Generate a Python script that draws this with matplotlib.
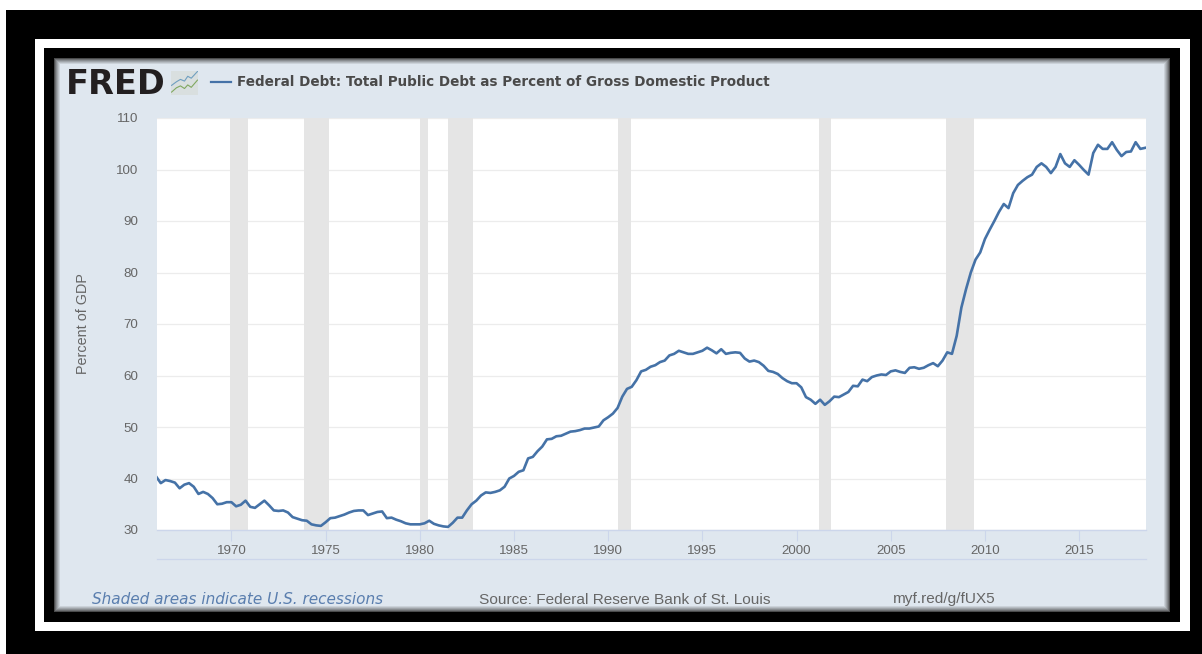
import numpy as np
import matplotlib
matplotlib.use("Agg")
import matplotlib.pyplot as plt
from matplotlib.patches import Rectangle
from matplotlib.lines import Line2D
from matplotlib.transforms import ScaledTranslation

W, H = 1202, 654

first_year = 1966
debt_pct = [
    40.4, 39.1, 39.7, 39.5,  39.2, 38.1, 38.8, 39.1,  38.4, 37.0, 37.4, 37.0,
    36.2, 35.0, 35.1, 35.4,  35.4, 34.6, 34.9, 35.7,  34.5, 34.3, 35.0, 35.7,
    34.8, 33.8, 33.7, 33.8,  33.4, 32.5, 32.2, 31.9,  31.8, 31.1, 30.9, 30.8,
    31.5, 32.3, 32.4, 32.7,  33.0, 33.4, 33.7, 33.8,  33.8, 32.9, 33.2, 33.5,
    33.6, 32.3, 32.4, 32.0,  31.7, 31.3, 31.1, 31.1,  31.1, 31.3, 31.8, 31.2,
    30.9, 30.7, 30.6, 31.4,  32.4, 32.4, 33.8, 35.0,  35.7, 36.7, 37.3, 37.2,
    37.4, 37.7, 38.4, 40.0,  40.5, 41.3, 41.6, 43.9,  44.2, 45.3, 46.2, 47.6,
    47.7, 48.2, 48.3, 48.7,  49.1, 49.2, 49.4, 49.7,  49.7, 49.9, 50.1, 51.3,
    51.9, 52.6, 53.7, 55.9,  57.4, 57.8, 59.1, 60.8,  61.1, 61.7, 62.0, 62.6,
    62.9, 63.9, 64.2, 64.8,  64.5, 64.2, 64.2, 64.5,  64.8, 65.4, 64.9, 64.3,
    65.1, 64.2, 64.4, 64.5,  64.4, 63.3, 62.7, 62.9,  62.6, 61.9, 60.9, 60.7,
    60.3, 59.5, 58.9, 58.5,  58.5, 57.7, 55.8, 55.3,  54.5, 55.3, 54.3, 55.0,
    55.9, 55.8, 56.3, 56.8,  58.0, 57.9, 59.2, 58.9,  59.7, 60.0, 60.2, 60.1,
    60.8, 61.0, 60.7, 60.5,  61.5, 61.6, 61.3, 61.5,  62.0, 62.4, 61.8, 62.9,
    64.5, 64.2, 67.7, 73.2,  76.8, 80.0, 82.5, 83.9,  86.5, 88.3, 90.0, 91.8,
    93.3, 92.5, 95.4, 97.0,  97.8, 98.5, 99.0, 100.5, 101.2, 100.5, 99.3, 100.5,
    103.0, 101.2, 100.5, 101.8, 100.9, 99.9, 99.0, 103.2, 104.8, 104.0, 104.0, 105.3,
    103.8, 102.6, 103.4, 103.5, 105.3, 104.0, 104.2,
]
recession_start = [1969.95, 1973.85, 1980.0, 1981.5, 1990.5, 2001.2, 2007.95]
recession_end = [1970.87, 1975.17, 1980.45, 1982.85, 1991.2, 2001.85, 2009.42]
y_ticks = [30, 40, 50, 60, 70, 80, 90, 100, 110]
x_ticks = [1970, 1975, 1980, 1985, 1990, 1995, 2000, 2005, 2010, 2015]

title = "Federal Debt: Total Public Debt as Percent of Gross Domestic Product"
y_label = "Percent of GDP"
note = "Shaded areas indicate U.S. recessions"
source = "Source: Federal Reserve Bank of St. Louis"
link = "myf.red/g/fUX5"

LINE = "#4572a7"
TXT = "#666666"
SANS = "Liberation Sans"

fig = plt.figure(figsize=(W / 100, H / 100), dpi=100, facecolor="white")


def box(x0, y0, x1, y1, color, z=0):
    fig.add_artist(Rectangle((x0 / W, 1 - y1 / H), (x1 - x0) / W, (y1 - y0) / H,
                             transform=fig.transFigure, facecolor=color,
                             edgecolor="none", zorder=z))


def label(x, y, s, **kw):
    fig.text(x / W, 1 - y / H, s, **kw)


# nested frames
box(6, 10, W, H, "black", 0)
box(35, 39, 1190, 631, "white", 1)
box(44, 48, 1180, 622, "black", 2)
inner = np.array([0xdf, 0xe7, 0xef]) / 255
edge = np.array([0x4a, 0x4b, 0x4c]) / 255
steps = 7
for i in range(steps):
    t = i / (steps - 1)
    box(54 + i, 58 + i, 1170 - i, 612 - i, tuple(edge + (inner - edge) * t ** 0.8), 3 + i * 0.01)

# plot region
L, R, T, B = 157, 1146, 118, 530
ax = fig.add_axes([L / W, 1 - B / H, (R - L) / W, (B - T) / H], facecolor="white", zorder=5)
x = first_year + np.arange(len(debt_pct)) / 4
ax.set_xlim(1966.05, 2018.55)
ax.set_ylim(30, 110)
for a, b in zip(recession_start, recession_end):
    ax.axvspan(a, b, color="#e5e5e5", lw=0, zorder=2)
ax.set_yticks(y_ticks)
ax.set_xticks(x_ticks)
ax.grid(axis="y", color="#ececec", lw=0.9, zorder=1)
ax.set_axisbelow(True)
ax.plot(x, debt_pct, color=LINE, lw=1.9, zorder=3, solid_joinstyle="round")
for s in ["top", "left", "right"]:
    ax.spines[s].set_visible(False)
ax.spines["bottom"].set_color("#ccd6eb")
ax.spines["bottom"].set_linewidth(1.0)
ax.tick_params(axis="x", length=7.9, width=0.8, color="#ccd6eb", labelcolor=TXT,
               labelsize=9.6, pad=3.2, labelfontfamily=SANS)
ax.tick_params(axis="y", length=0, labelcolor=TXT, labelsize=9.6, pad=13.5,
               labelfontfamily=SANS)
ax.set_ylabel(y_label, family=SANS, fontsize=10.4, color=TXT)
ax.yaxis.set_label_coords((90 - L) / (R - L), 0.5)

# lower rule
fig.add_artist(Line2D([L / W, R / W], [1 - 559 / H] * 2, color="#ccd6eb", lw=0.9,
                      transform=fig.transFigure, zorder=6))

# header
label(66, 84.5, "FRED", family="DejaVu Sans", weight="bold", fontsize=24.2, color="#231f20",
      va="center", ha="left", zorder=7)
icon = fig.add_axes([171 / W, 1 - 95 / H, 27 / W, 24 / H], facecolor="#d9dfdf", zorder=7)
icon.set_xlim(0, 1)
icon.set_ylim(0, 1)
icon.set_xticks([])
icon.set_yticks([])
for s in icon.spines.values():
    s.set_visible(False)
icon_x = [0.02, 0.2, 0.35, 0.5, 0.62, 0.75, 0.98]
icon.plot(icon_x, [0.4, 0.55, 0.65, 0.58, 0.78, 0.7, 0.98], color="#6f9fc0", lw=0.8)
icon.plot(icon_x, [0.12, 0.3, 0.38, 0.27, 0.42, 0.32, 0.62], color="#80a860", lw=0.8)

fig.add_artist(Line2D([211 / W, 231 / W], [1 - 82 / H] * 2, color=LINE, lw=1.6,
                      transform=fig.transFigure, zorder=7))
label(237, 82, title, family="DejaVu Sans", weight="bold", fontsize=9.73, color="#4a4a4a",
      va="center", ha="left", zorder=7)

# footer
label(92, 599.5, note, family="DejaVu Sans", style="italic", fontsize=11.0, color="#5a7eae",
      va="center", ha="left", zorder=7)
label(479, 599.5, source, family=SANS, fontsize=11.1, color=TXT, va="center", ha="left", zorder=7)
label(893, 599.5, link, family=SANS, fontsize=11.1, color=TXT, va="center", ha="left", zorder=7)

fig.savefig("out.png", dpi=100, facecolor="white")
